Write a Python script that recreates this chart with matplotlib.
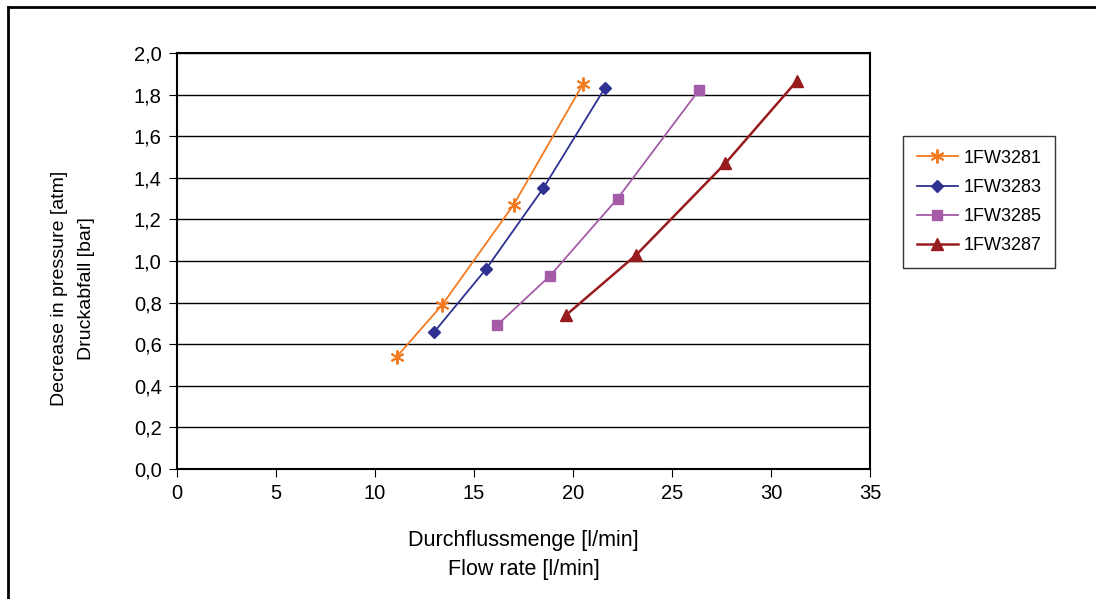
import matplotlib
matplotlib.use('Agg')
import matplotlib.pyplot as plt
from matplotlib.lines import Line2D
from matplotlib.ticker import FuncFormatter

plt.rcParams['font.family'] = ['Liberation Sans', 'DejaVu Sans']

# flow rate [l/min] and pressure drop [bar]
x_3281 = [11.1, 13.4, 17.0, 20.5]
y_3281 = [0.54, 0.79, 1.27, 1.85]
x_3283 = [13.0, 15.6, 18.5, 21.6]
y_3283 = [0.66, 0.96, 1.35, 1.83]
x_3285 = [16.15, 18.85, 22.25, 26.35]
y_3285 = [0.69, 0.93, 1.30, 1.82]
x_3287 = [19.65, 23.2, 27.7, 31.3]
y_3287 = [0.74, 1.03, 1.47, 1.865]

labels = ['1FW3281', '1FW3283', '1FW3285', '1FW3287']
xticks = [0, 5, 10, 15, 20, 25, 30, 35]
yticks = [0.0, 0.2, 0.4, 0.6, 0.8, 1.0, 1.2, 1.4, 1.6, 1.8, 2.0]

W, H = 1096, 599
fig = plt.figure(figsize=(W / 100, H / 100), dpi=100)
ax = fig.add_axes([177 / W, 1 - 469 / H, (870 - 177) / W, (469 - 53) / H])

ax.plot(x_3281, y_3281, color='#f47a20', marker=(6, 2, 0), markersize=10, mew=1.4, lw=1.3, label=labels[0])
ax.plot(x_3283, y_3283, color='#2e3192', marker='D', markersize=6, lw=1.3, label=labels[1])
ax.plot(x_3285, y_3285, color='#a45ca8', marker='s', markersize=7, lw=1.3, label=labels[2])
ax.plot(x_3287, y_3287, color='#981b1e', marker='^', markersize=9, lw=1.8, label=labels[3])

ax.set_xlim(0, 35)
ax.set_ylim(0, 2.0)
ax.set_xticks(xticks)
ax.set_yticks(yticks)
ax.yaxis.set_major_formatter(FuncFormatter(lambda v, p: f'{v:.1f}'.replace('.', ',')))
ax.grid(axis='y', color='black', lw=1.0)
ax.set_axisbelow(True)
ax.tick_params(direction='out', length=6, width=0.8, labelsize=14.5, pad=5)
for s in ax.spines.values():
    s.set_linewidth(1.5)
    s.set_color('black')

ax.set_xlabel('Durchflussmenge [l/min]\nFlow rate [l/min]', fontsize=15.5, labelpad=19, linespacing=1.55)
ax.set_ylabel('Decrease in pressure [atm]\nDruckabfall [bar]', fontsize=14, linespacing=1.75)
ax.yaxis.set_label_coords(-0.118, 0.433)

leg = ax.legend(loc='upper left', bbox_to_anchor=(903 / W, 1 - 136 / H),
                bbox_transform=fig.transFigure, fontsize=13, frameon=True, fancybox=False,
                edgecolor='black', handlelength=2.3, borderpad=0.75, labelspacing=0.68,
                handletextpad=0.3, borderaxespad=0)
leg.get_frame().set_linewidth(1.0)

# outer chart border (top and left visible)
fig.add_artist(Line2D([8 / W, 1.0], [1 - 7 / H, 1 - 7 / H], color='black', lw=2, transform=fig.transFigure))
fig.add_artist(Line2D([8 / W, 8 / W], [0, 1 - 7 / H], color='black', lw=2, transform=fig.transFigure))

fig.savefig('out.png', dpi=100)
